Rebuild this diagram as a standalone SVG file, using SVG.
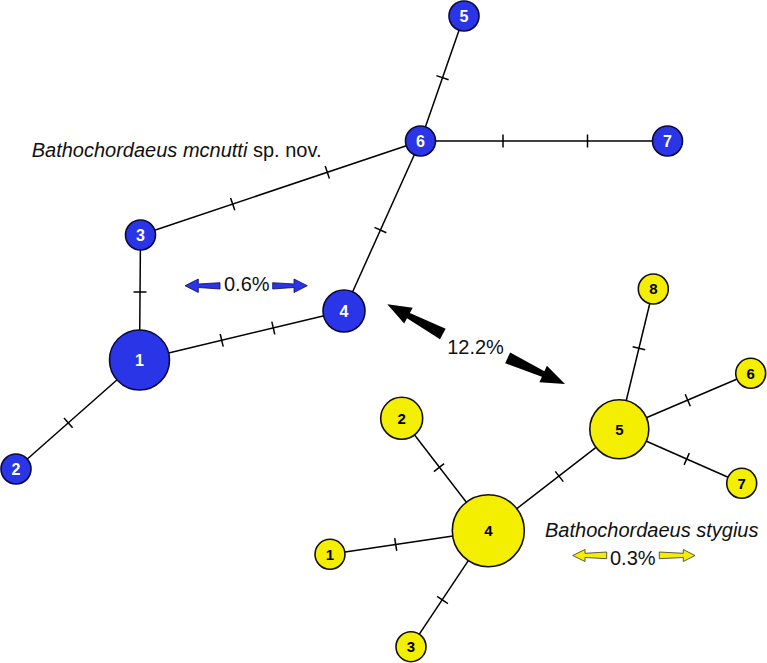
<svg xmlns="http://www.w3.org/2000/svg" width="767" height="663" viewBox="0 0 767 663">
<style>
.edge{stroke:#000;stroke-width:1.5;fill:none}
.tick{stroke:#000;stroke-width:1.5}
.blue{fill:#2b35e8;stroke:#0a0a3a;stroke-width:1.6}
.yellow{fill:#f4ee00;stroke:#111;stroke-width:1.6}
.bl{font-family:"Liberation Sans",Arial,sans-serif;font-weight:bold;font-size:16px;fill:#fff;text-anchor:middle}
.yl{font-family:"Liberation Sans",Arial,sans-serif;font-weight:bold;font-size:15px;fill:#000;text-anchor:middle}
.lab{font-family:"Liberation Sans",Arial,sans-serif;font-size:20px;fill:#111}
.barr{fill:#2b35e8;stroke:#0a0a50;stroke-width:0.8}
.yarr{fill:#f4ee00;stroke:#333;stroke-width:0.8}
</style>
<rect width="767" height="663" fill="#fff"/>
<g id="connectors">
  <line class="edge" x1="139.5" y1="360" x2="140.5" y2="235"/>
  <line class="edge" x1="139.5" y1="360" x2="16" y2="469"/>
  <line class="edge" x1="139.5" y1="360" x2="344" y2="311"/>
  <line class="edge" x1="140.5" y1="235" x2="420.5" y2="141"/>
  <line class="edge" x1="344" y1="311" x2="420.5" y2="141"/>
  <line class="edge" x1="420.5" y1="141" x2="464" y2="16"/>
  <line class="edge" x1="420.5" y1="141" x2="667.5" y2="141"/>
  <line class="edge" x1="488.3" y1="530.7" x2="330" y2="554.3"/>
  <line class="edge" x1="488.3" y1="530.7" x2="401.7" y2="418.3"/>
  <line class="edge" x1="488.3" y1="530.7" x2="411" y2="646.7"/>
  <line class="edge" x1="488.3" y1="530.7" x2="619.3" y2="429.3"/>
  <line class="edge" x1="619.3" y1="429.3" x2="653.3" y2="289"/>
  <line class="edge" x1="619.3" y1="429.3" x2="750.7" y2="373.3"/>
  <line class="edge" x1="619.3" y1="429.3" x2="741.7" y2="483.3"/>
  <g id="ticks">
    <line class="tick" x1="133.5" y1="292" x2="146.5" y2="292"/>
    <line class="tick" x1="64" y1="417.9" x2="72.6" y2="427.7"/>
    <line class="tick" x1="220.2" y1="334" x2="223.2" y2="346.6"/>
    <line class="tick" x1="271.8" y1="321.7" x2="274.8" y2="334.3"/>
    <line class="tick" x1="230.6" y1="197.9" x2="234.8" y2="210.3"/>
    <line class="tick" x1="325.2" y1="166.1" x2="329.4" y2="178.5"/>
    <line class="tick" x1="374.5" y1="227.4" x2="386.3" y2="232.8"/>
    <line class="tick" x1="436.4" y1="75.6" x2="448.6" y2="79.8"/>
    <line class="tick" x1="503" y1="134.5" x2="503" y2="147.5"/>
    <line class="tick" x1="587.5" y1="134.5" x2="587.5" y2="147.5"/>
    <line class="tick" x1="632.6" y1="346.8" x2="645.2" y2="349.8"/>
    <line class="tick" x1="685.2" y1="394.2" x2="690.3" y2="406.2"/>
    <line class="tick" x1="689.3" y1="453.1" x2="684.1" y2="464.9"/>
    <line class="tick" x1="555.3" y1="471.4" x2="563.3" y2="481.6"/>
    <line class="tick" x1="444.1" y1="463.7" x2="433.9" y2="471.7"/>
    <line class="tick" x1="394.7" y1="538.1" x2="396.7" y2="550.9"/>
    <line class="tick" x1="437.1" y1="596.4" x2="447.9" y2="603.6"/>
  </g>
</g>
<g id="B1"><circle class="blue" cx="139.5" cy="360" r="30"/><text class="bl" x="139.5" y="365.8">1</text></g>
<g id="B2"><circle class="blue" cx="16" cy="469" r="15"/><text class="bl" x="16" y="474.8">2</text></g>
<g id="B3"><circle class="blue" cx="140.5" cy="235" r="15"/><text class="bl" x="140.5" y="240.8">3</text></g>
<g id="B4"><circle class="blue" cx="344" cy="311" r="21"/><text class="bl" x="344" y="316.8">4</text></g>
<g id="B5"><circle class="blue" cx="464" cy="16" r="15"/><text class="bl" x="464" y="21.8">5</text></g>
<g id="B6"><circle class="blue" cx="420.5" cy="141" r="15"/><text class="bl" x="420.5" y="146.8">6</text></g>
<g id="B7"><circle class="blue" cx="667.5" cy="141" r="15"/><text class="bl" x="667.5" y="146.8">7</text></g>
<g id="Y1"><circle class="yellow" cx="330" cy="554.3" r="15"/><text class="yl" x="330" y="559.6">1</text></g>
<g id="Y2"><circle class="yellow" cx="401.7" cy="418.3" r="21"/><text class="yl" x="401.7" y="423.6">2</text></g>
<g id="Y3"><circle class="yellow" cx="411" cy="646.7" r="15"/><text class="yl" x="411" y="652">3</text></g>
<g id="Y4"><circle class="yellow" cx="488.3" cy="530.7" r="36"/><text class="yl" x="488.3" y="536">4</text></g>
<g id="Y5"><circle class="yellow" cx="619.3" cy="429.3" r="29.5"/><text class="yl" x="619.3" y="434.6">5</text></g>
<g id="Y6"><circle class="yellow" cx="750.7" cy="373.3" r="15"/><text class="yl" x="750.7" y="378.6">6</text></g>
<g id="Y7"><circle class="yellow" cx="741.7" cy="483.3" r="15"/><text class="yl" x="741.7" y="488.6">7</text></g>
<g id="Y8"><circle class="yellow" cx="653.3" cy="289" r="15"/><text class="yl" x="653.3" y="294.3">8</text></g>
<g id="labels">
  <text class="lab" x="31.7" y="156.7"><tspan font-style="italic">Bathochordaeus mcnutti</tspan> sp. nov.</text>
  <text class="lab" x="246.8" y="290.7" text-anchor="middle">0.6%</text>
  <text class="lab" x="475.5" y="354.3" text-anchor="middle">12.2%</text>
  <text class="lab" x="545" y="536.7" font-style="italic">Bathochordaeus stygius</text>
  <text class="lab" x="632.8" y="565" text-anchor="middle">0.3%</text>
</g>
<g id="scale-arrows">
  <polygon class="barr" points="185,285.7 198.3,279 198.3,284 220,282.7 220,289 198.3,287.5 198.3,292.5"/>
  <polygon class="barr" points="272.7,282.7 294,284 294,279 307.3,285.7 294,292.5 294,287.5 272.7,289"/>
  <polygon class="yarr" points="572.7,555.5 585,549.5 585,553.3 606.7,552 606.7,558.7 585,557.5 585,561.5"/>
  <polygon class="yarr" points="659.3,552 683.3,553.3 683.3,549.5 695,555.5 683.3,561.5 683.3,557.5 659.3,558.7"/>
  <polygon fill="#000" transform="translate(387.3,304.3) rotate(28.2)" points="0,0 24,-9 24,-3 63,-6 63,6 24,3 24,9"/>
  <polygon fill="#000" transform="translate(565,384) rotate(204.5)" points="0,0 24,-9 24,-3 63,-6 63,6 24,3 24,9"/>
</g>
</svg>
